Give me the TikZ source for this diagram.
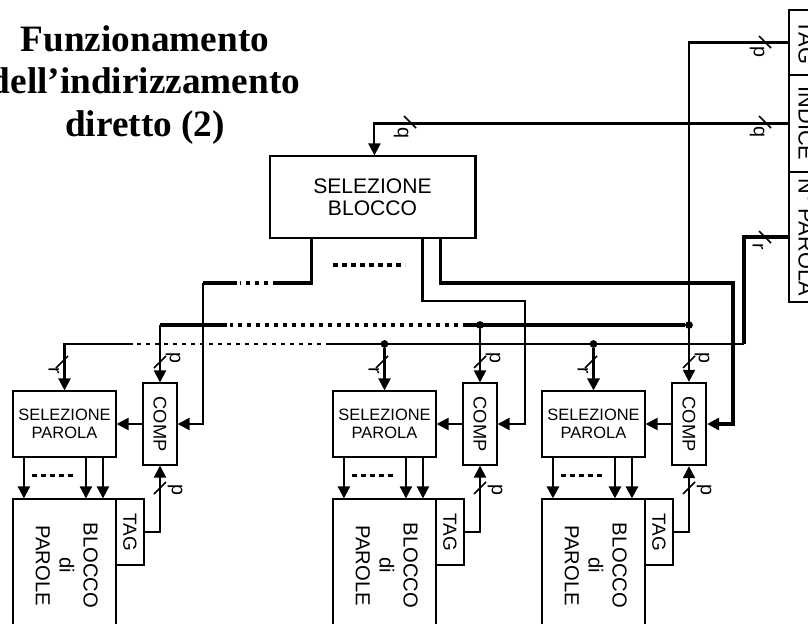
\documentclass[tikz,border=0pt]{standalone}
\usepackage{fontspec}
\setmainfont{Liberation Serif}
\setsansfont{Liberation Sans}
\usetikzlibrary{arrows.meta}

\tikzstyle{blk} = [draw, line width=0.8pt, inner sep=0pt, align=center]
\tikzstyle{titolo} = [inner sep=0pt, align=center, font=\bfseries\fontsize{26.5}{30.5}\selectfont]
\tikzstyle{regbox} = [blk, minimum width=0.85cm, font=\sffamily\fontsize{15.5}{17}\selectfont]
\tikzstyle{selblocco} = [blk, minimum width=5.125cm, minimum height=2.05cm, font=\sffamily\fontsize{15}{16}\selectfont]
\tikzstyle{selbox} = [blk, minimum width=2.575cm, minimum height=1.65cm, font=\sffamily\fontsize{11.7}{12.7}\selectfont]
\tikzstyle{compbox} = [blk, minimum width=0.85cm, minimum height=2.05cm, font=\sffamily\fontsize{13}{15}\selectfont]
\tikzstyle{wordbox} = [blk, minimum width=2.575cm, minimum height=3.325cm, font=\sffamily\fontsize{14.4}{17}\selectfont]
\tikzstyle{tagbox} = [blk, minimum width=0.7cm, minimum height=1.65cm, font=\sffamily\fontsize{13.5}{15}\selectfont]
\tikzstyle{wire} = [line width=1.5pt]
\tikzstyle{bus} = [line width=2.6pt]
\tikzstyle{arr} = [-{Triangle[length=8.5pt,width=8.5pt]}]
\tikzstyle{dots} = [dash pattern=on 3.2pt off 3.2pt]
\tikzstyle{slash} = [line width=1.1pt]
\tikzstyle{lbl} = [inner sep=0pt, rotate=-90, font=\sffamily\fontsize{14}{14}\selectfont]
\tikzstyle{dot} = [circle, fill, inner sep=0pt, minimum size=5.5pt]

\begin{document}
\begin{tikzpicture}[x=0.025cm, y=-0.025cm]
\useasboundingbox (0,0) rectangle (808,624);
\clip (0,0) rectangle (808,624);

% titolo
\node[titolo] (tit) at (145,85) {Funzionamento\\dell’indirizzamento\\diretto (2)};

% indirizzo
\node[regbox, line width=1.5pt, minimum height=1.625cm] (regtag) at (806,42.5) {\rotatebox{-90}{TAG}};
\node[regbox, minimum height=2.425cm] (regind) at (806,123.5) {\rotatebox{-90}{INDICE}};
\node[regbox, minimum height=3.25cm] (regpar) at (806,237) {\rotatebox{-90}{N° PAROLA}};

\node[selblocco] (sb) at (372.5,197) {SELEZIONE\\BLOCCO};
\draw[line width=1.8pt] (sb.north east) -- (sb.south east);

% blocco 1
\node[selbox] (sp1) at (64.5,424) {SELEZIONE\\PAROLA};
\node[compbox] (comp1) at (160,424) {\rotatebox{-90}{COMP}};
\node[wordbox] (bp1) at (64.5,565.5) {\rotatebox{-90}{\begin{tabular}{@{}c@{}}BLOCCO\\di\\PAROLE\end{tabular}}};
\node[tagbox] (tag1) at (130,532) {\rotatebox{-90}{TAG}};

% blocco 2
\node[selbox] (sp2) at (384.5,424) {SELEZIONE\\PAROLA};
\node[compbox] (comp2) at (480,424) {\rotatebox{-90}{COMP}};
\node[wordbox] (bp2) at (384.5,565.5) {\rotatebox{-90}{\begin{tabular}{@{}c@{}}BLOCCO\\di\\PAROLE\end{tabular}}};
\node[tagbox] (tag2) at (450,532) {\rotatebox{-90}{TAG}};

% blocco 3
\node[selbox] (sp3) at (593.5,424) {SELEZIONE\\PAROLA};
\node[compbox, line width=1.6pt] (comp3) at (689,424) {\rotatebox{-90}{COMP}};
\node[wordbox] (bp3) at (593.5,565.5) {\rotatebox{-90}{\begin{tabular}{@{}c@{}}BLOCCO\\di\\PAROLE\end{tabular}}};
\node[tagbox] (tag3) at (659,532) {\rotatebox{-90}{TAG}};

% campi dell'indirizzo
\draw[wire, arr] (regind.west) -| ([xshift=2.625cm]sb.north west);
\draw[wire, arr] (regtag.west) -| (comp3.north);
\coordinate (rr) at (744,344);
\coordinate (pb) at (0,325);
\draw[bus] (regpar.west) -| (rr);
\draw[slash] (759,36) -- (771,48);
\node[lbl] at (757,52) {p};
\draw[slash] (759,116) -- (771,128);
\node[lbl] at (757,132) {q};
\draw[slash] (759,231) -- (771,243);
\node[lbl] at (758,247) {r};
\draw[slash] (404,116) -- (416,128);
\node[lbl] at (401,133) {q};

% bus r
\draw[wire] (rr) -- (330,344);
\draw[wire, dots] (330,344) -- (133,344);
\draw[wire, arr] (133,344) -| (sp1.north);
\node[dot] (jr2) at (sp2.north |- rr) {};
\draw[wire, arr] (jr2) -- (sp2.north);
\node[dot] (jr3) at (sp3.north |- rr) {};
\draw[line width=2.2pt, arr] (jr3) -- (sp3.north);

% bus p
\node[dot] (jp3) at (comp3.north |- pb) {};
\node[dot] (jp2) at (comp2.north |- pb) {};
\draw[bus] (jp3) -- (467,325);
\draw[bus, dots] (467,325) -- (230,325);
\draw[bus] (227,325) -- (comp1.north |- pb);
\draw[wire, arr] (comp1.north |- pb) -- (comp1.north);
\draw[wire, arr] (jp2) -- (comp2.north);

% uscite selezione blocco
\draw[bus] ([xshift=1.05cm]sb.south west) |- (277,283);
\draw[bus, dots] (277,283) -- (240,283);
\draw[bus] (237,283) -- (203,283);
\draw[wire, arr] (203,283) |- (comp1.east);
\draw[wire, arr] ([xshift=3.825cm]sb.south west) |- (525,301) |- (comp2.east);
\draw[bus, arr] ([xshift=4.275cm]sb.south west) |- (733,283) |- (comp3.east);
\draw[bus, dots] (333,265) -- (405,265);

% blocco 1
\draw[wire, arr] (comp1.west) -- (sp1.east);
\draw[wire, arr] ([xshift=0.2875cm]sp1.south west) -- ([xshift=0.2875cm]bp1.north west);
\draw[wire, arr] ([xshift=1.8375cm]sp1.south west) -- ([xshift=1.8375cm]bp1.north west);
\draw[wire, arr] ([xshift=2.2625cm]sp1.south west) -- ([xshift=2.2625cm]bp1.north west);
\draw[bus, dots] ([xshift=0.5cm, yshift=-0.45cm]sp1.south west) -- ([xshift=1.58cm, yshift=-0.45cm]sp1.south west);
\draw[wire, arr] (tag1.east) -| (comp1.south);
\draw[slash] (56,368) -- (68,356);
\node[lbl] at (54,371) {r};
\draw[slash] (154,368) -- (166,356);
\node[lbl] at (173,358) {p};
\draw[slash] (154,494) -- (166,482);
\node[lbl] at (175,490) {p};

% blocco 2
\draw[wire, arr] (comp2.west) -- (sp2.east);
\draw[wire, arr] ([xshift=0.2875cm]sp2.south west) -- ([xshift=0.2875cm]bp2.north west);
\draw[wire, arr] ([xshift=1.8375cm]sp2.south west) -- ([xshift=1.8375cm]bp2.north west);
\draw[wire, arr] ([xshift=2.2625cm]sp2.south west) -- ([xshift=2.2625cm]bp2.north west);
\draw[bus, dots] ([xshift=0.5cm, yshift=-0.45cm]sp2.south west) -- ([xshift=1.58cm, yshift=-0.45cm]sp2.south west);
\draw[wire, arr] (tag2.east) -| (comp2.south);
\draw[slash] (376,368) -- (388,356);
\node[lbl] at (374,371) {r};
\draw[slash] (474,368) -- (486,356);
\node[lbl] at (493,358) {p};
\draw[slash] (474,494) -- (486,482);
\node[lbl] at (495,490) {p};

% blocco 3
\draw[wire, arr] (comp3.west) -- (sp3.east);
\draw[line width=2pt, arr] ([xshift=0.2875cm]sp3.south west) -- ([xshift=0.2875cm]bp3.north west);
\draw[line width=2pt, arr] ([xshift=1.8375cm]sp3.south west) -- ([xshift=1.8375cm]bp3.north west);
\draw[line width=2pt, arr] ([xshift=2.2625cm]sp3.south west) -- ([xshift=2.2625cm]bp3.north west);
\draw[bus, dots] ([xshift=0.5cm, yshift=-0.45cm]sp3.south west) -- ([xshift=1.58cm, yshift=-0.45cm]sp3.south west);
\draw[wire, arr] (tag3.east) -| (comp3.south);
\draw[slash] (585,368) -- (597,356);
\node[lbl] at (583,371) {r};
\draw[slash] (683,368) -- (695,356);
\node[lbl] at (702,358) {p};
\draw[slash] (683,494) -- (695,482);
\node[lbl] at (704,490) {p};
\end{tikzpicture}
\end{document}
